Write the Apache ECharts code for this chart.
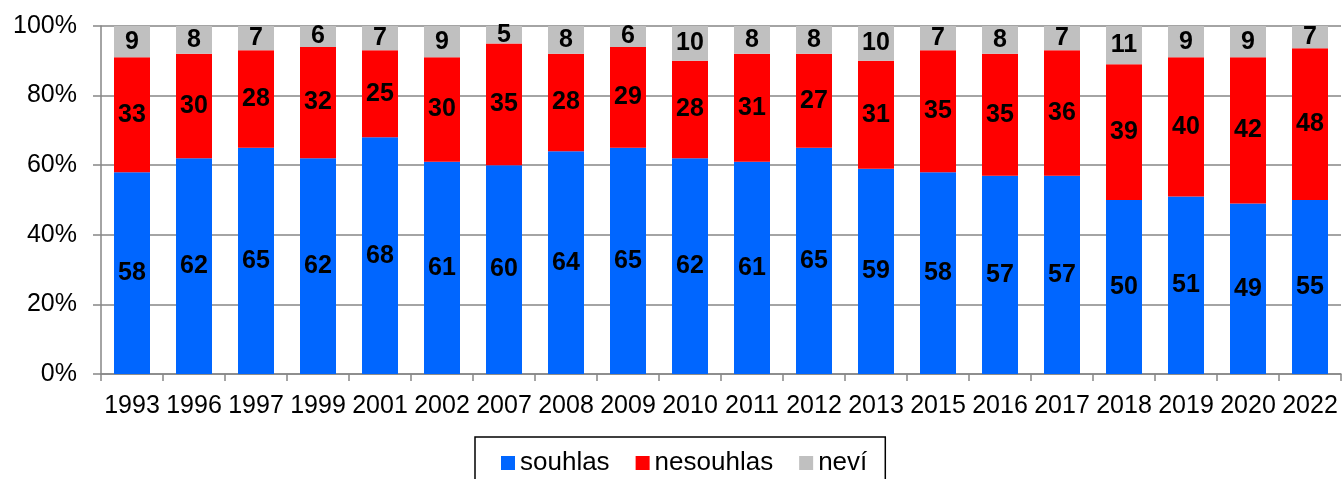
<!DOCTYPE html>
<html>
<head>
<meta charset="utf-8">
<script src="https://cdn.jsdelivr.net/npm/echarts@6/dist/echarts.min.js"></script>
<style>
html,body{margin:0;padding:0;background:#fff;}
#chart{width:1343px;height:479px;}
</style>
</head>
<body>
<div id="chart"></div>
<script>
const years = ['1993','1996','1997','1999','2001','2002','2007','2008','2009','2010','2011','2012','2013','2015','2016','2017','2018','2019','2020','2022'];
const souhlas   = [58,62,65,62,68,61,60,64,65,62,61,65,59,58,57,57,50,51,49,55];
const nesouhlas = [33,30,28,32,25,30,35,28,29,28,31,27,31,35,35,36,39,40,42,48];
const nevi      = [9,8,7,6,7,9,5,8,6,10,8,8,10,7,8,7,11,9,9,7];
const yTicks = [0,20,40,60,80,100];

const totals = years.map((_, i) => souhlas[i] + nesouhlas[i] + nevi[i]);
const norm = arr => arr.map((v, i) => ({ value: v / totals[i] * 100, raw: v }));

const FONT = '"Liberation Sans", Arial, sans-serif';
const labelCfg = {
  show: true,
  position: 'inside',
  color: '#000',
  fontWeight: 'bold',
  fontSize: 25,
  fontFamily: FONT,
  formatter: p => p.data.raw
};

function mk(name, arr, color) {
  return {
    name, type: 'bar', stack: 'all',
    barWidth: 36,
    data: norm(arr),
    itemStyle: { color },
    label: labelCfg,
    emphasis: { disabled: true }
  };
}

const chart = echarts.init(document.getElementById('chart'), null, { renderer: 'canvas' });
chart.setOption({
  animation: false,
  textStyle: { fontFamily: FONT },
  grid: { left: 101, right: 2, top: 26, bottom: 105, containLabel: false },
  legend: {
    left: 475, top: 437,
    icon: 'rect', itemWidth: 14, itemHeight: 14, itemGap: 26,
    itemStyle: { borderWidth: 0 },
    borderColor: '#000', borderWidth: 1.5,
    padding: [13, 18, 14, 26],
    textStyle: { fontSize: 26, color: '#000', fontFamily: FONT },
    data: ['souhlas', 'nesouhlas', 'neví']
  },
  xAxis: {
    type: 'category', data: years,
    axisLine: { lineStyle: { color: '#868686', width: 1.5 } },
    axisTick: { show: true, length: 7, lineStyle: { color: '#868686', width: 1.5 } },
    axisLabel: { color: '#000', fontSize: 25, margin: 20, interval: 0, fontFamily: FONT }
  },
  yAxis: {
    type: 'value', min: 0, max: 100, interval: 20,
    axisLine: { show: true, lineStyle: { color: '#868686', width: 1.5 } },
    axisTick: { show: true, length: 8, lineStyle: { color: '#868686', width: 1.5 } },
    splitLine: { lineStyle: { color: '#868686', width: 1.5 } },
    axisLabel: { color: '#000', fontSize: 25, margin: 24, fontFamily: FONT,
      formatter: v => yTicks.includes(v) ? v + '%' : '' }
  },
  series: [
    mk('souhlas', souhlas, '#0066FF'),
    mk('nesouhlas', nesouhlas, '#FF0000'),
    mk('neví', nevi, '#C0C0C0')
  ]
});
</script>
</body>
</html>
